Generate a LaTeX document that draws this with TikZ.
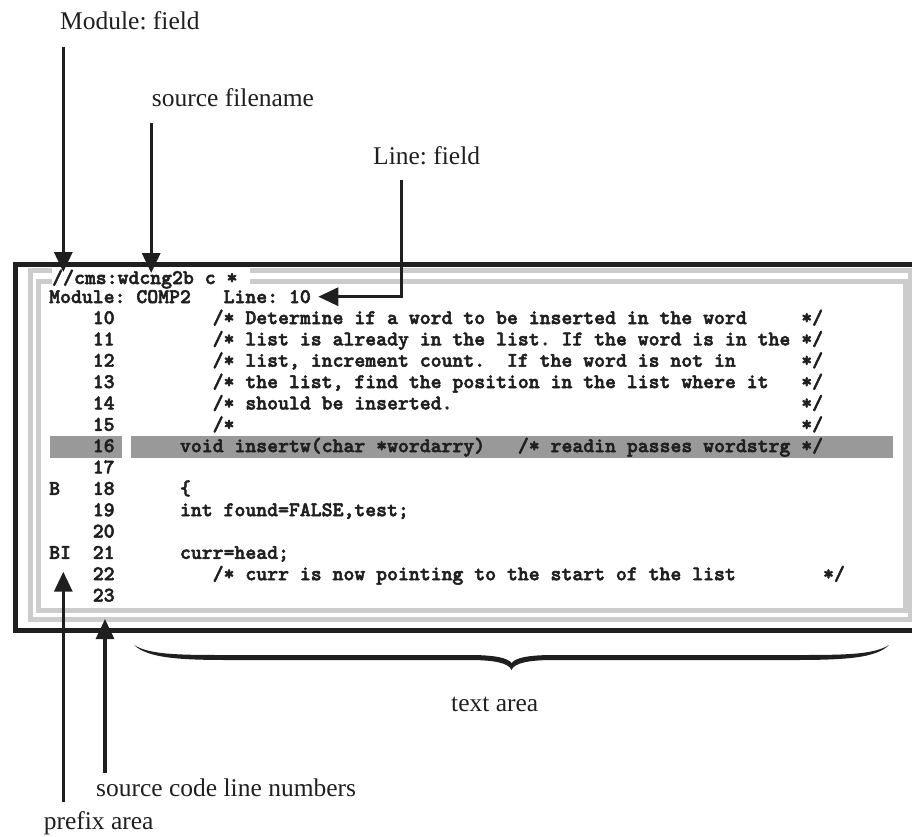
\documentclass[tikz,border=0pt]{standalone}
\usepackage{fontspec}
\setmainfont{Liberation Serif}
\newfontfamily\codefont{lmmonolt10-bold}[Extension=.otf, FakeBold=2.5]
\usetikzlibrary{arrows.meta}
\definecolor{framegray}{gray}{0.80}
\definecolor{hlgray}{gray}{0.60}
\definecolor{ink}{gray}{0.12}
\frenchspacing
\tikzset{
  lbl/.style={font=\fontsize{25.5}{28}\selectfont, anchor=base west, inner sep=0pt, text=ink},
  code/.style={font=\codefont\fontsize{20.76}{23}\selectfont, anchor=base west, inner sep=0pt, text=ink},
  pointer/.style={draw=ink, line width=3.2pt, -{Triangle[length=20pt,width=18pt]}},
  blackframe/.style={draw=ink, line width=5pt},
  grayband/.style={draw=framegray, line width=5pt},
  hlbar/.style={fill=hlgray, draw=none}
}
\begin{document}
\begin{tikzpicture}[x=1pt,y=-1pt]
\useasboundingbox (0,0) rectangle (912,836);
% frame
\draw[blackframe] (940,264) -- (15.8,264) -- (15.8,630.8) -- (940,630.8);
\draw[grayband] (30.8,270.8) rectangle (910.8,619.5);
\draw[grayband] (38,281.7) rectangle (905,610);
\fill[white] (52,267) rectangle (250,287.5);
% highlight bars
\fill[hlbar] (50,436) rectangle (121.7,457.7);
\fill[hlbar] (130.7,436) rectangle (893.3,457.7);
% code text
\node[code] (title) at (52,284) {//cms:wdcng2b c *};
\node[code] (module) at (49,303) {Module: COMP2};
\node[code] (linefield) at ({49+10.9*16},303) {Line: 10};
\foreach \n in {10,...,23}
  \node[code] (n\n) at ({49+10.9*4},{324+21.35*(\n-10)}) {\n};
\node[code] (c10) at ({49+10.9*15},324) {/* Determine if a word to be inserted in the word};
\node[code] (c11) at ({49+10.9*15},{324+21.35*1}) {/* list is already in the list. If the word is in the};
\node[code] (c12) at ({49+10.9*15},{324+21.35*2}) {/* list, increment count.~~If the word is not in};
\node[code] (c13) at ({49+10.9*15},{324+21.35*3}) {/* the list, find the position in the list where it};
\node[code] (c14) at ({49+10.9*15},{324+21.35*4}) {/* should be inserted.};
\node[code] (c15) at ({49+10.9*15},{324+21.35*5}) {/*};
\foreach \k in {0,...,5}
  \node[code] (e\k) at ({49+10.9*69},{324+21.35*\k}) {*/};
\node[code] (c16) at ({49+10.9*12},{324+21.35*6}) {void insertw(char *wordarry)};
\node[code] (c16b) at ({49+10.9*43},{324+21.35*6}) {/* readin passes wordstrg */};
\node[code] (p18) at (49,{324+21.35*8}) {B};
\node[code] (c18) at ({49+10.9*12},{324+21.35*8}) {\{};
\node[code] (c19) at ({49+10.9*12},{324+21.35*9}) {int found=FALSE,test;};
\node[code] (p21) at (49,{324+21.35*11}) {BI};
\node[code] (c21) at ({49+10.9*12},{324+21.35*11}) {curr=head;};
\node[code] (c22) at ({49+10.9*15},{324+21.35*12}) {/* curr is now pointing to the start of the list};
\node[code] (e22) at ({49+10.9*71},{324+21.35*12}) {*/};
% labels
\node[lbl] (lmod) at (60,29) {Module: field};
\node[lbl] (lsrc) at (151.7,106) {source filename};
\node[lbl] (lline) at (373,164) {Line: field};
\node[lbl] (ltext) at (451,711.7) {text area};
\node[lbl] (lnum) at (96,796) {source code line numbers};
\node[lbl] (lpre) at (43.6,829) {prefix area};
% connector coordinates
\coordinate (modTop) at (63.3,46.7);
\coordinate (modTip) at (63.3,272);
\coordinate (srcTop) at (151.2,123);
\coordinate (srcTip) at (151.2,273);
\coordinate (lineTop) at (401.7,180);
\coordinate (lineTip) at (318.3,296.7);
\coordinate (preBot) at (63.3,802);
\coordinate (preTip) at (63.3,571.7);
\coordinate (numBot) at (105,773);
\coordinate (numTip) at (105,619);
\draw[pointer] (modTop) -- (modTip);
\draw[pointer] (srcTop) -- (srcTip);
\draw[pointer] (lineTop) |- (lineTip);
\draw[pointer] (preBot) -- (preTip);
\draw[pointer] (numBot) -- (numTip);
% brace
\fill[ink] (134,645) .. controls (150,655) and (180,655) .. (230,655) -- (470,655)
  .. controls (495,655) and (508,658) .. (511.5,663)
  .. controls (515,658) and (528,655) .. (553,655) -- (793,655)
  .. controls (843,655) and (873,655) .. (889,645)
  .. controls (876,658) and (846,660) .. (793,660) -- (553,660)
  .. controls (529,660) and (514,663) .. (511.5,670)
  .. controls (509,663) and (494,660) .. (470,660) -- (230,660)
  .. controls (178,660) and (148,658) .. (134,645) -- cycle;
\end{tikzpicture}
\end{document}
